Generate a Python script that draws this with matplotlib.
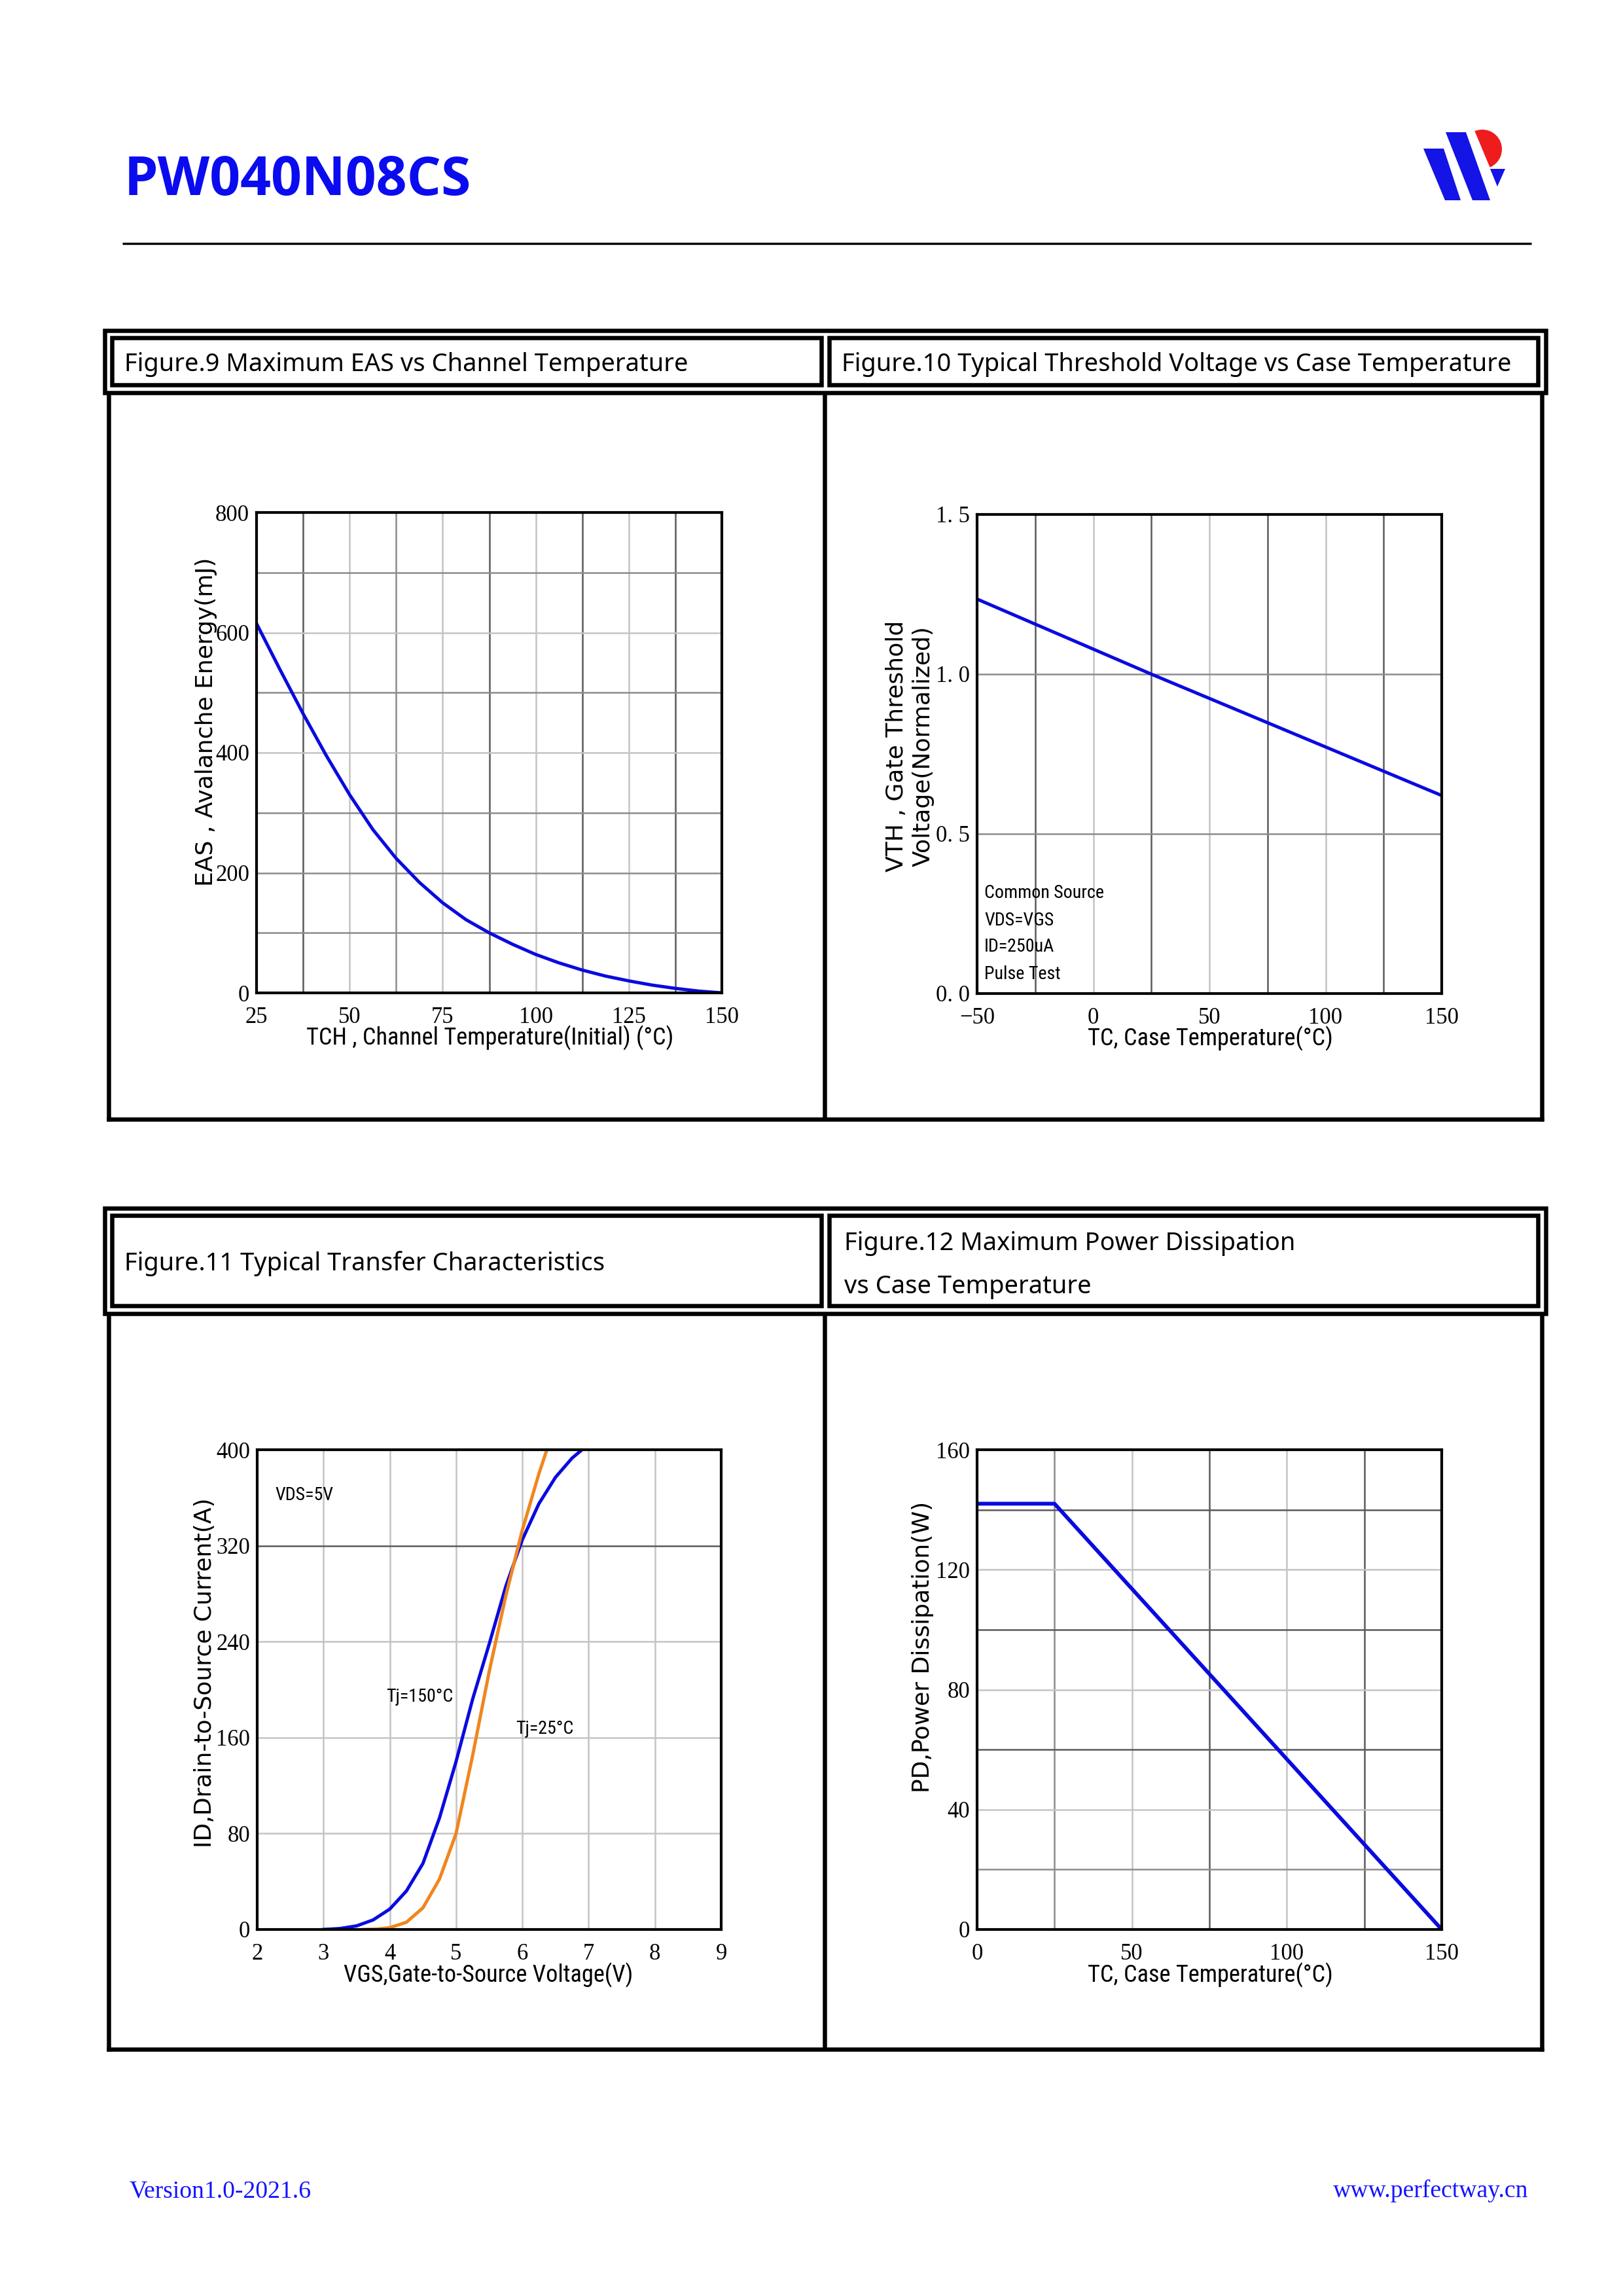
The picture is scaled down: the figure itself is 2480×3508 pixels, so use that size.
import os
import matplotlib
matplotlib.use('Agg')
import matplotlib.pyplot as plt
from matplotlib import font_manager as fm
from matplotlib.textpath import TextPath
from matplotlib.patches import Polygon, Wedge, Rectangle

# ---------------- data ----------------
eas_temp = [25, 31.25, 37.5, 43.75, 50, 56.25, 62.5, 68.75, 75, 81.25, 87.5,
            93.75, 100, 106.25, 112.5, 118.75, 125, 131.25, 137.5, 143.75, 150]
eas_energy = [615, 539, 465, 395, 330, 272, 224, 184, 150, 122, 100,
              81, 64, 50, 38, 28, 20, 13, 7.5, 3, 0]

vth_temp = [-50, 25, 150]
vth_norm = [1.235, 1.0, 0.62]

vgs_150 = [3.0, 3.25, 3.5, 3.75, 4.0, 4.25, 4.5, 4.75, 5.0, 5.25, 5.5, 5.75, 6.0, 6.25, 6.5, 6.75, 6.9]
id_150 = [0, 0.8, 3, 8, 17, 32, 55, 93, 140, 192, 238, 286, 325, 355, 377, 393, 400]
vgs_25 = [3.6, 3.8, 4.0, 4.25, 4.5, 4.75, 5.0, 5.25, 5.5, 5.75, 6.0, 6.25, 6.37]
id_25 = [0, 0.3, 1.5, 6, 18, 42, 80, 145, 215, 278, 333, 380, 400]

pd_temp = [0, 25, 150]
pd_power = [142, 142, 0]

eas_xticks = [25, 50, 75, 100, 125, 150]
eas_yticks = [0, 200, 400, 600, 800]
vth_xticks = [-50, 0, 50, 100, 150]
vth_xticklabels = ['\u221250', '0', '50', '100', '150']
vth_yticks = [0.0, 0.5, 1.0, 1.5]
vth_yticklabels = ['0. 0', '0. 5', '1. 0', '1. 5']
tr_xticks = [2, 3, 4, 5, 6, 7, 8, 9]
tr_yticks = [0, 80, 160, 240, 320, 400]
pd_xticks = [0, 50, 100, 150]
pd_yticks = [0, 40, 80, 120, 160]

vth_notes = ['Common Source', 'VDS=VGS', 'ID=250uA', 'Pulse Test']

# ---------------- fonts ----------------
W, H, DPI = 2480, 3508, 300
PX = 72.0 / DPI


def _w(f):
    w = f.weight
    if isinstance(w, str):
        w = fm.weight_dict.get(w, 400)
    return w


TTF = fm.fontManager.ttflist


def font_by_file(basenames):
    for b in basenames:
        for f in TTF:
            if os.path.basename(f.fname).lower() == b.lower():
                return fm.FontProperties(fname=f.fname)
    return None


def font_by_family(fams, weight):
    for fam in fams:
        for f in TTF:
            if f.name == fam and _w(f) == weight and f.style == 'normal' \
                    and f.stretch == 'normal':
                return fm.FontProperties(fname=f.fname)
    return None


def font_condensed():
    fp = font_by_file(['LiberationSansNarrow-Regular.ttf', 'NotoSans-Condensed.ttf',
                       'RobotoCondensed-Regular.ttf', 'OpenSans-CondensedRegular.ttf',
                       'DejaVuSansCondensed.ttf', 'NotoSans-SemiCondensed.ttf'])
    if fp is not None:
        return fp
    for f in TTF:
        b = os.path.basename(f.fname)
        if ('Narrow' in b or 'Condensed' in b) and not any(
                k in b for k in ('Bold', 'Italic', 'Oblique', 'Light', 'Thin', 'Black',
                                 'Medium', 'Extra', 'Semi', 'Serif', 'Mono')):
            return fm.FontProperties(fname=f.fname)
    return font_by_family(['Liberation Sans', 'Roboto', 'DejaVu Sans'], 400)


FP_BOLD = font_by_family(['Noto Sans', 'Open Sans', 'Lato', 'Roboto', 'Inter',
                          'DejaVu Sans'], 700)
FP_HEAD = font_by_family(['Noto Sans', 'Open Sans', 'DejaVu Sans'], 400)
FP_NARROW = font_condensed()
FP_WIDE = font_by_family(['DejaVu Sans'], 400)
FP_SERIF = font_by_family(['Liberation Serif', 'DejaVu Serif'], 400)
plt.rcParams['font.family'] = ['Liberation Serif', 'DejaVu Serif']


def fit(fp, s, target_px, lo=4, hi=30):
    """font size (pt) for which string s is target_px wide (ink)."""
    p = fp.copy()
    p.set_size(10)
    wpt = TextPath((0, 0), s, prop=p).get_extents().width
    size = 10 * target_px / (wpt * DPI / 72.0)
    return max(lo, min(hi, size))


def fpz(fp, size):
    p = fp.copy()
    p.set_size(size)
    return p


S_TITLE = fit(FP_BOLD, 'PW040N08CS', 520)
S_HEAD = fit(FP_HEAD, 'Figure.9 Maximum EAS vs Channel Temperature', 855)
S_XL = fit(FP_NARROW, 'TCH , Channel Temperature(Initial) (\u00b0C)', 557)
S_XL = min(S_XL, 9.6)
S_YL = fit(FP_WIDE, 'EAS , Avalanche Energy(mJ)', 497)
S_ANN = fit(FP_NARROW, 'Common Source', 180)
S_FOOT = fit(FP_SERIF, 'Version1.0-2021.6', 276)

fig = plt.figure(figsize=(W / DPI, H / DPI), dpi=DPI)
fig.patch.set_facecolor('white')
bg = fig.add_axes([0, 0, 1, 1])
bg.set_xlim(0, W)
bg.set_ylim(H, 0)
bg.axis('off')

BLUE_T = '#0b0bf0'

# title, rule, logo
bg.text(190, 298, 'PW040N08CS', fontproperties=fpz(FP_BOLD, S_TITLE),
        color=BLUE_T, ha='left', va='baseline')
bg.plot([187, 2340], [372, 372], color='black', lw=3.4 * PX, solid_capstyle='butt')
bg.add_patch(Polygon([(2175, 227), (2206, 227), (2232, 306), (2208, 306)],
                     closed=True, fc='#1414e6', ec='none'))
bg.add_patch(Polygon([(2209, 202), (2240, 202), (2277, 306), (2250, 306)],
                     closed=True, fc='#1414e6', ec='none'))
bg.add_patch(Wedge((2265, 228), 30, -112.7, 67.3, fc='#ee1c1c', ec='none'))
bg.add_patch(Polygon([(2277, 258), (2300, 258), (2288, 285)],
                     closed=True, fc='#1414e6', ec='none'))

# footer
bg.text(198, 3357, 'Version1.0-2021.6', fontproperties=fpz(FP_SERIF, S_FOOT),
        color='#1414ff', ha='left', va='baseline')
bg.text(2335, 3357, 'www.perfectway.cn', fontproperties=fpz(FP_SERIF, S_FOOT),
        color='#1414ff', ha='right', va='baseline')


def frame(x0, y0, x1, y1, t):
    bg.add_patch(Rectangle((x0, y0), x1 - x0, y1 - y0, fill=False, ec='black',
                           lw=t * PX, joinstyle='miter'))


def vline(x, y0, y1, t):
    bg.plot([x, x], [y0, y1], color='black', lw=t * PX, solid_capstyle='butt')


def hline(x0, x1, y, t):
    bg.plot([x0, x1], [y, y], color='black', lw=t * PX, solid_capstyle='butt')


def table(top_o, top_i, bot_i, bot_o, bottom):
    t = 6.5
    frame(160, top_o, 2361.5, bot_o, t)
    frame(171, top_i, 1255, bot_i, t)
    frame(1266.5, top_i, 2350, bot_i, t)
    vline(166, bot_o, bottom + t / 2, t)
    vline(2356, bot_o, bottom + t / 2, t)
    vline(1260, bot_o, bottom, t)
    hline(166 - t / 2, 2356 + t / 2, bottom, t)


table(505, 516, 587.5, 599.5, 1709.5)
table(1846, 1857, 1995, 2006.5, 3131)

HFP = fpz(FP_HEAD, S_HEAD)
bg.text(190, 567, 'Figure.9 Maximum EAS vs Channel Temperature', fontproperties=HFP,
        ha='left', va='baseline')
bg.text(1286, 567, 'Figure.10 Typical Threshold Voltage vs Case Temperature',
        fontproperties=HFP, ha='left', va='baseline')
bg.text(190, 1941, 'Figure.11 Typical Transfer Characteristics', fontproperties=HFP,
        ha='left', va='baseline')
bg.text(1290, 1910, 'Figure.12 Maximum Power Dissipation', fontproperties=HFP,
        ha='left', va='baseline')
bg.text(1290, 1976, 'vs Case Temperature', fontproperties=HFP,
        ha='left', va='baseline')

TICK_FS = 8.3
LINE_BLUE = '#0a0ae0'
LINE_ORANGE = '#f0861e'
G_LIGHT = '#c4c4c4'
G_DARK = '#5a5a5a'
G_MID = '#8c8c8c'
XLFP = fpz(FP_NARROW, S_XL)
YLFP = fpz(FP_WIDE, S_YL)
ANFP = fpz(FP_NARROW, S_ANN)
TKFP = fpz(FP_SERIF, TICK_FS)


def make_axes(x0, y0, x1, y1):
    ax = fig.add_axes([x0 / W, 1 - y1 / H, (x1 - x0) / W, (y1 - y0) / H])
    for s in ax.spines.values():
        s.set_linewidth(1.0)
        s.set_color('black')
        s.set_zorder(5)
    ax.set_axisbelow(True)
    ax.tick_params(which='both', length=0, labelsize=TICK_FS)
    ax.tick_params(axis='x', pad=5)
    ax.tick_params(axis='y', pad=2.6)
    ax._box = (x0, y0, x1, y1)
    return ax


def to_axes(ax, px, py):
    x0, y0, x1, y1 = ax._box
    return (px - x0) / (x1 - x0), (y1 - py) / (y1 - y0)


def labels(ax, xl, xpos, yl, ypos, ylinesp=1.2):
    ax.set_xlabel(xl, fontproperties=XLFP, va='center', ha='center')
    ax.xaxis.set_label_coords(*to_axes(ax, *xpos))
    ax.set_ylabel(yl, fontproperties=YLFP, va='center', ha='center',
                  linespacing=ylinesp, multialignment='center')
    ax.yaxis.set_label_coords(*to_axes(ax, *ypos))


def set_font(ax):
    for lb in ax.get_xticklabels() + ax.get_yticklabels():
        lb.set_fontproperties(TKFP)


def grid_lines(ax, xs, ys):
    for v, c in xs:
        ax.axvline(v, color=c, lw=0.6, zorder=0.5)
    for v, c in ys:
        ax.axhline(v, color=c, lw=0.6, zorder=0.5)


def note(ax, px, py, s):
    ax.text(*to_axes(ax, px, py), s, transform=ax.transAxes, fontproperties=ANFP,
            ha='left', va='center')


# ---------- Figure 9 ----------
ax1 = make_axes(392, 783, 1103, 1517)
ax1.plot(eas_temp, eas_energy, color=LINE_BLUE, lw=1.2, zorder=3)
ax1.set_xlim(25, 150)
ax1.set_ylim(0, 800)
ax1.set_xticks(eas_xticks)
ax1.set_yticks(eas_yticks)
grid_lines(ax1,
           [(37.5, G_DARK), (50, G_LIGHT), (62.5, G_MID), (75, G_LIGHT), (87.5, G_DARK),
            (100, G_LIGHT), (112.5, G_DARK), (125, G_LIGHT), (137.5, G_DARK)],
           [(100, G_MID), (200, G_MID), (300, G_MID), (400, G_LIGHT), (500, G_MID),
            (600, G_LIGHT), (700, G_MID)])
labels(ax1, 'TCH , Channel Temperature(Initial) (\u00b0C)', (749, 1586),
       'EAS , Avalanche Energy(mJ)', (315, 1103))
set_font(ax1)

# ---------- Figure 10 ----------
ax2 = make_axes(1493, 786, 2203, 1518)
ax2.plot(vth_temp, vth_norm, color=LINE_BLUE, lw=1.2, zorder=3)
ax2.set_xlim(-50, 150)
ax2.set_ylim(0, 1.5)
ax2.set_xticks(vth_xticks)
ax2.set_xticklabels(vth_xticklabels)
ax2.set_yticks(vth_yticks)
ax2.set_yticklabels(vth_yticklabels)
grid_lines(ax2,
           [(-25, G_DARK), (0, G_LIGHT), (25, G_DARK), (50, G_LIGHT), (75, G_DARK),
            (100, G_LIGHT), (125, G_DARK)],
           [(0.5, G_MID), (1.0, G_MID)])
labels(ax2, 'TC, Case Temperature(\u00b0C)', (1849, 1587),
       'VTH , Gate Threshold\nVoltage(Normalized)', (1390, 1140), ylinesp=1.25)
for i, s in enumerate(vth_notes):
    note(ax2, 1504, 1365 + 41 * i, s)
set_font(ax2)

# ---------- Figure 11 ----------
ax3 = make_axes(393, 2215, 1102, 2948)
ax3.plot(vgs_150, id_150, color=LINE_BLUE, lw=1.2, zorder=3)
ax3.plot(vgs_25, id_25, color=LINE_ORANGE, lw=1.2, zorder=3)
ax3.set_xlim(2, 9)
ax3.set_ylim(0, 400)
ax3.set_xticks(tr_xticks)
ax3.set_yticks(tr_yticks)
grid_lines(ax3,
           [(3, G_LIGHT), (4, G_LIGHT), (5, G_LIGHT), (6, G_LIGHT), (7, G_LIGHT), (8, G_LIGHT)],
           [(80, G_LIGHT), (160, G_LIGHT), (240, G_LIGHT), (320, G_DARK)])
labels(ax3, 'VGS,Gate-to-Source Voltage(V)', (746, 3018),
       'ID,Drain-to-Source Current(A)', (313, 2556))
ax3.text(2.27, 362, 'VDS=5V', fontproperties=ANFP, ha='left', va='center')
ax3.text(3.95, 194, 'Tj=150\u00b0C', fontproperties=ANFP, ha='left', va='center')
ax3.text(5.9, 167, 'Tj=25\u00b0C', fontproperties=ANFP, ha='left', va='center')
set_font(ax3)

# ---------- Figure 12 ----------
ax4 = make_axes(1493, 2215, 2203, 2948)
ax4.plot(pd_temp, pd_power, color=LINE_BLUE, lw=1.4, zorder=3)
ax4.set_xlim(0, 150)
ax4.set_ylim(0, 160)
ax4.set_xticks(pd_xticks)
ax4.set_yticks(pd_yticks)
grid_lines(ax4,
           [(25, G_MID), (50, G_LIGHT), (75, G_DARK), (100, G_LIGHT), (125, G_DARK)],
           [(20, G_MID), (40, G_LIGHT), (60, G_DARK), (80, G_LIGHT), (100, G_DARK),
            (120, G_LIGHT), (140, G_DARK)])
labels(ax4, 'TC, Case Temperature(\u00b0C)', (1849, 3018),
       'PD,Power Dissipation(W)', (1410, 2516))
set_font(ax4)

fig.savefig('out.png', dpi=DPI, facecolor='white')
